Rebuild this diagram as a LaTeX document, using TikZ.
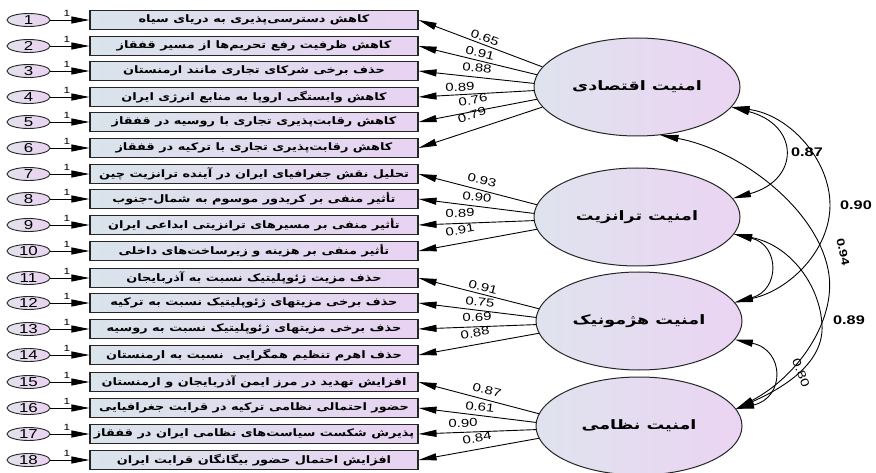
\documentclass[tikz,border=0pt]{standalone}
\usepackage{fontspec}
\usetikzlibrary{arrows.meta,shapes.geometric,calc}
\TeXXeTstate=1
\newfontfamily\fa[Script=Arabic,FakeStretch=1.25]{DejaVu Sans}
\newfontfamily\fal[Script=Arabic,FakeStretch=1.35]{DejaVu Sans}
\newfontfamily\num[FakeStretch=1.3]{Liberation Sans}
\newcommand{\myrtl}[1]{\beginR #1\endR}
\definecolor{boxL}{HTML}{D9E4EB}
\definecolor{boxR}{HTML}{E8D3F2}
\definecolor{latL}{HTML}{DFE3EE}
\definecolor{latR}{HTML}{EBD4F3}
\definecolor{errL}{HTML}{E2E2EC}
\definecolor{errR}{HTML}{EAD2F1}
\tikzset{
  obs/.style={draw=black!85, line width=1.1pt, minimum width=328pt, minimum height=19pt,
    inner sep=0pt, left color=boxL, right color=boxR,
    font=\fa\bfseries\fontsize{10.3}{10.3}\selectfont},
  err/.style={ellipse, draw=black!85, line width=0.9pt, minimum width=43pt, minimum height=13pt,
    inner sep=0pt, left color=errL, right color=errR,
    font=\num\fontsize{13}{13}\selectfont},
  lat/.style={ellipse, draw=black!85, line width=1pt, minimum width=206pt, minimum height=98pt,
    inner sep=0pt, left color=latL, right color=latR,
    font=\fal\bfseries\fontsize{13}{13}\selectfont},
  tip/.style={-{Triangle[length=18pt,width=7pt]}, line width=0.9pt},
  dtip/.style={{Triangle[length=18pt,width=7pt]}-{Triangle[length=18pt,width=7pt]}, line width=0.9pt},
  one/.style={font=\num\fontsize{9}{9}\selectfont, inner sep=0pt},
  ld/.style={font=\num\fontsize{11.5}{11.5}\selectfont, inner sep=0pt},
  cv/.style={font=\num\bfseries\fontsize{12.5}{12.5}\selectfont, inner sep=0pt},
}
\begin{document}
\begin{tikzpicture}[x=1pt,y=-1pt]
\fill[white] (0,0) rectangle (876,473);
\useasboundingbox (0,0) rectangle (876,473);

% latent variables
\node[lat] (econ) at (637,87)  {\myrtl{امنیت اقتصادی}};
\node[lat] (tran) at (637,217) {\myrtl{امنیت ترانزیت}};
\node[lat] (heg)  at (639,321) {\myrtl{امنیت هژمونیک}};
\node[lat] (mil)  at (639,426) {\myrtl{امنیت نظامی}};

% observed boxes
\node[obs] (b1)  at (254,20)  {\myrtl{کاهش دسترسی^^^^200cپذیری به دریای سیاه}};
\node[obs] (b2)  at (254,46)  {\myrtl{کاهش ظرفیت رفع تحریم^^^^200cها از مسیر قفقاز}};
\node[obs] (b3)  at (254,71)  {\myrtl{حذف برخی شرکای تجاری مانند ارمنستان}};
\node[obs] (b4)  at (254,97)  {\myrtl{کاهش وابستگی اروپا به منابع انرژی ایران}};
\node[obs] (b5)  at (254,122) {\myrtl{کاهش رقابت^^^^200cپذیری تجاری با روسیه در قفقاز}};
\node[obs] (b6)  at (254,148) {\myrtl{کاهش رقابت^^^^200cپذیری تجاری با ترکیه در قفقاز}};
\node[obs] (b7)  at (254,174) {\myrtl{تحلیل نقش جغرافیای ایران در آینده ترانزیت چین}};
\node[obs] (b8)  at (254,199) {\myrtl{تأثیر منفی بر کریدور موسوم به شمال-جنوب}};
\node[obs] (b9)  at (254,225) {\myrtl{تأثیر منفی بر مسیرهای ترانزیتی ابداعی ایران}};
\node[obs] (b10) at (254,251) {\myrtl{تأثیر منفی بر هزینه و زیرساخت^^^^200cهای داخلی}};
\node[obs] (b11) at (254,278) {\myrtl{حذف مزیت ژئوپلیتیک نسبت به آذربایجان}};
\node[obs] (b12) at (254,303) {\myrtl{حذف برخی مزیتهای ژئوپلیتیک نسبت به ترکیه}};
\node[obs] (b13) at (254,329) {\myrtl{حذف برخی مزیتهای ژئوپلیتیک نسبت به روسیه}};
\node[obs] (b14) at (254,355) {\myrtl{حذف اهرم تنظیم همگرایی \ نسبت به ارمنستان}};
\node[obs] (b15) at (254,382) {\myrtl{افزایش تهدید در مرز ایمن آذربایجان و ارمنستان}};
\node[obs] (b16) at (254,408) {\myrtl{حضور احتمالی نظامی ترکیه در قرابت جغرافیایی}};
\node[obs] (b17) at (254,434) {\myrtl{پذیرش شکست سیاست^^^^200cهای نظامی ایران در قفقاز}};
\node[obs] (b18) at (254,460) {\myrtl{افزایش احتمال حضور بیگانگان قرابت ایران}};

% error terms
\foreach \i/\y in {1/20,2/46,3/71,4/97,5/122,6/148,7/174,8/199,9/225,10/251,
                   11/278,12/303,13/329,14/355,15/382,16/408,17/434,18/460}{
  \node[err] (e\i) at (28.5,\y) {\i};
  \draw[tip] (e\i) -- (b\i) node[one, pos=0.42, above=3pt] {1};
}

% loadings
\draw[tip] (econ.168) -- (b1.east);
\draw[tip] (econ.173) -- (b2.east);
\draw[tip] (econ.178) -- (b3.east);
\draw[tip] (econ.182) -- (b4.east);
\draw[tip] (econ.187) -- (b5.east);
\draw[tip] (econ.192) -- (b6.east);
\draw[tip] (tran.173) -- (b7.east);
\draw[tip] (tran.178) -- (b8.east);
\draw[tip] (tran.182) -- (b9.east);
\draw[tip] (tran.187) -- (b10.east);
\draw[tip] (heg.173) -- (b11.east);
\draw[tip] (heg.178) -- (b12.east);
\draw[tip] (heg.182) -- (b13.east);
\draw[tip] (heg.187) -- (b14.east);
\draw[tip] (mil.173) -- (b15.east);
\draw[tip] (mil.178) -- (b16.east);
\draw[tip] (mil.182) -- (b17.east);
\draw[tip] (mil.187) -- (b18.east);

\node[ld, rotate=-20.6] (l1) at (485,38) {0.65};
\node[ld, rotate=-13.7] (l2) at (480,53) {0.91};
\node[ld, rotate=-5.9]  (l3) at (477,68) {0.88};
\node[ld, rotate=3]     (l4) at (460,87) {0.89};
\node[ld, rotate=10.9]  (l5) at (473,100) {0.76};
\node[ld, rotate=18.2]  (l6) at (472,115) {0.79};
\node[ld, rotate=-14.6] (l7) at (482,180) {0.93};
\node[ld, rotate=-6.9]  (l8) at (477,197) {0.90};
\node[ld, rotate=2]     (l9) at (460,213) {0.89};
\node[ld, rotate=10.5]  (l10) at (460,230) {0.91};
\node[ld, rotate=-14.4] (l11) at (483,287) {0.91};
\node[ld, rotate=-6.8]  (l12) at (480,302) {0.75};
\node[ld, rotate=1.9]   (l13) at (477,317) {0.69};
\node[ld, rotate=10.3]  (l14) at (475,333) {0.88};
\node[ld, rotate=-14.8] (l15) at (487,390) {0.87};
\node[ld, rotate=-6.8]  (l16) at (480,407) {0.61};
\node[ld, rotate=1.9]   (l17) at (463,423) {0.90};
\node[ld, rotate=10.3]  (l18) at (477,438) {0.84};

% covariances
\draw[dtip] (econ.-12) .. controls (800,125) and (800,180) .. (tran.11);
\draw[dtip] (econ.-12) .. controls (790,115) and (830,160) .. (830,205)
                       .. controls (830,250) and (790,290) .. (heg.11);
\draw[dtip] (econ.-64) .. controls (740,150) and (820,210) .. (829,275)
                       .. controls (835,320) and (800,375) .. (mil.10);
\draw[dtip] (tran.-10) .. controls (780,245) and (780,290) .. (heg.11);
\draw[dtip] (tran.-10) .. controls (790,245) and (820,285) .. (822,325)
                       .. controls (824,360) and (790,385) .. (mil.10);
\draw[dtip] (heg.-11) .. controls (785,350) and (785,398) .. (mil.10);

\node[cv] (c1) at (807,152) {0.87};
\node[cv] (c2) at (856,205) {0.90};
\node[ld, font=\num\bfseries\fontsize{11}{11}\selectfont, rotate=-78] (c3) at (843,252) {0.94};
\node[cv] (c4) at (849,320) {0.89};
\node[ld, rotate=-68] (c5) at (801,373) {0.80};
\end{tikzpicture}
\end{document}
